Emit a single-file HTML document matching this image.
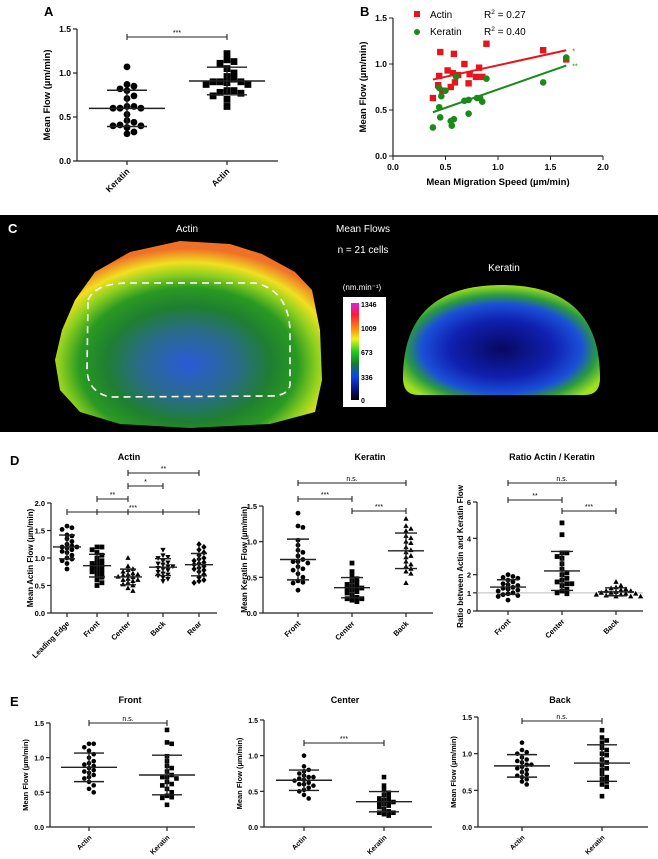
<!DOCTYPE html>
<html><head><meta charset="utf-8"><style>
html,body{margin:0;padding:0;background:#fff;}
svg{display:block;font-family:"Liberation Sans",sans-serif;}
</style></head><body>
<svg id="fig" width="658" height="859" viewBox="0 0 658 859" xmlns="http://www.w3.org/2000/svg">
<defs>
<radialGradient id="gActin" cx="50%" cy="66%" r="62%">
<stop offset="0" stop-color="#2a5ad8"/><stop offset="0.3" stop-color="#2a6c88"/><stop offset="0.5" stop-color="#1f7f30"/>
<stop offset="0.66" stop-color="#2a9a22"/><stop offset="0.78" stop-color="#8fd020"/><stop offset="0.88" stop-color="#f0e020"/><stop offset="1" stop-color="#f07028"/></radialGradient>
<radialGradient id="gKer" cx="50%" cy="58%" r="58%">
<stop offset="0" stop-color="#080860"/><stop offset="0.45" stop-color="#1020b0"/><stop offset="0.7" stop-color="#1a50d8"/>
<stop offset="0.84" stop-color="#2a9a40"/><stop offset="1" stop-color="#a0e020"/></radialGradient>
<linearGradient id="gBar" x1="0" y1="0" x2="0" y2="1">
<stop offset="0" stop-color="#e020e8"/><stop offset="0.12" stop-color="#ff1a30"/><stop offset="0.27" stop-color="#ff9010"/>
<stop offset="0.37" stop-color="#f0f020"/><stop offset="0.5" stop-color="#20d020"/><stop offset="0.62" stop-color="#10802a"/>
<stop offset="0.76" stop-color="#1040f0"/><stop offset="0.9" stop-color="#081070"/><stop offset="1" stop-color="#000"/></linearGradient>
</defs>
<g id="panelC">
<rect x="0" y="215" width="658" height="217" fill="#000"/>
<text x="8" y="233" fill="#fff" font-size="13" font-weight="bold">C</text>
<text x="187" y="232" fill="#fff" font-size="10" text-anchor="middle">Actin</text>
<text x="363" y="232" fill="#fff" font-size="10" text-anchor="middle">Mean Flows</text>
<text x="363" y="253" fill="#fff" font-size="10" text-anchor="middle">n = 21 cells</text>
<text x="504" y="271" fill="#fff" font-size="10" text-anchor="middle">Keratin</text>
<path d="M62,330 L75,300 L95,272 L130,252 L180,241 L230,244 L262,254 L295,272 L312,290 L320,330 L322,380 L315,412 L270,424 L190,428 L120,424 L80,412 L60,390 L55,360 Z" fill="url(#gActin)"/>
<path d="M88,300 Q95,283 130,283 L255,283 Q288,290 290,330 L290,385 Q288,396 270,396 L110,397 Q88,392 87,370 Z" fill="none" stroke="#fff" stroke-width="1.6" stroke-dasharray="7,5"/>
<path d="M403,378 Q403,285 502,285 Q600,285 600,378 Q600,395 585,395 L418,395 Q403,395 403,378 Z" fill="url(#gKer)"/>
<text x="362" y="290" fill="#fff" font-size="8" text-anchor="middle">(nm.min⁻¹)</text>
<rect x="343" y="297" width="43" height="110" fill="#fff"/>
<rect x="351" y="303" width="8" height="97" fill="url(#gBar)"/>
<g font-size="7" font-weight="bold" fill="#000">
<text x="361" y="307">1346</text>
<text x="361" y="331">1009</text>
<text x="361" y="355">673</text>
<text x="361" y="380">336</text>
<text x="361" y="403">0</text>
</g>
</g>
</svg>
<script>
// ---- Panel A data ----
const aCats=["Keratin","Actin"];
const aKeratin=[1.07,0.85,0.87,0.82,0.80,0.71,0.74,0.62,0.60,0.62,0.60,0.60,0.53,0.46,0.44,0.40,0.41,0.38,0.40,0.33,0.31];
const aActin=[1.22,1.15,1.11,1.13,1.05,1.00,0.96,0.93,0.90,0.90,0.87,0.87,0.89,0.90,0.80,0.78,0.77,0.80,0.74,0.70,0.62];
// ---- Panel B data ----
const bActinX=[0.38,0.43,0.44,0.45,0.47,0.52,0.55,0.57,0.58,0.59,0.62,0.68,0.72,0.73,0.79,0.82,0.85,0.89,1.43,1.65];
const bActinY=[0.63,0.77,0.87,1.13,0.71,0.93,0.75,0.90,1.11,0.80,0.88,1.00,0.79,0.89,0.86,0.96,0.86,1.22,1.15,1.05];
const bKerX=[0.38,0.44,0.45,0.46,0.44,0.50,0.55,0.56,0.58,0.60,0.68,0.72,0.72,0.80,0.83,0.85,0.89,1.43,1.65];
const bKerY=[0.31,0.53,0.42,0.65,0.74,0.71,0.38,0.33,0.40,0.86,0.60,0.61,0.46,0.63,0.63,0.59,0.84,0.80,1.07];
const bXTicks=[0,0.5,1.0,1.5,2.0];
const bYTicks=[0,0.5,1.0,1.5];
// ---- Panel D data ----
const dActinCats=["Leading Edge","Front","Center","Back","Rear"];
const dActinLE=[1.58,1.55,1.52,1.42,1.40,1.35,1.30,1.25,1.22,1.20,1.20,1.18,1.15,1.12,1.10,1.05,1.00,0.98,0.95,0.90,0.80];
const dActinFront=[1.20,1.20,1.15,1.10,1.05,1.00,0.95,0.92,0.90,0.88,0.85,0.82,0.80,0.78,0.75,0.72,0.70,0.65,0.60,0.55,0.50];
const dActinCenter=[1.00,0.85,0.80,0.78,0.75,0.72,0.70,0.70,0.68,0.66,0.65,0.62,0.60,0.60,0.58,0.55,0.52,0.50,0.45,0.40];
const dActinBack=[1.15,1.05,1.02,1.00,0.95,0.92,0.90,0.88,0.85,0.85,0.82,0.80,0.78,0.75,0.72,0.70,0.68,0.65,0.62,0.58];
const dActinRear=[1.25,1.20,1.15,1.10,1.05,1.00,0.98,0.95,0.92,0.90,0.88,0.85,0.82,0.80,0.78,0.75,0.70,0.65,0.60,0.58,0.55];
const dKerCats=["Front","Center","Back"];
const dKerFront=[1.40,1.22,1.20,1.02,0.95,0.88,0.85,0.80,0.75,0.72,0.72,0.70,0.65,0.62,0.60,0.55,0.50,0.45,0.43,0.42,0.32];
const dKerCenter=[0.70,0.58,0.52,0.48,0.45,0.42,0.40,0.38,0.36,0.35,0.34,0.32,0.30,0.28,0.25,0.22,0.20,0.20,0.18,0.16];
const dKerBack=[1.32,1.22,1.18,1.15,1.08,1.05,1.00,0.98,0.92,0.88,0.85,0.80,0.78,0.72,0.68,0.65,0.62,0.58,0.55,0.42];
const dRatioFront=[2.0,1.9,1.85,1.8,1.7,1.6,1.5,1.45,1.4,1.3,1.25,1.2,1.15,1.1,1.0,0.95,0.9,0.85,0.8,0.6];
const dRatioCenter=[4.85,4.2,3.2,3.2,3.0,2.9,2.6,2.3,2.1,2.0,1.8,1.7,1.6,1.5,1.5,1.4,1.2,1.1,1.0,0.95];
const dRatioBack=[1.6,1.4,1.3,1.25,1.2,1.15,1.1,1.1,1.05,1.0,1.0,0.95,0.95,0.9,0.9,0.85,0.8,0.8,0.8];
const flowTicks=[0,0.5,1.0,1.5];
const actinTicks=[0,0.5,1.0,1.5,2.0];
const ratioTicks=[0,1,2,4,6];
const eCats=["Actin","Keratin"];

const NS="http://www.w3.org/2000/svg";
const svg=document.getElementById('fig');
function el(tag,attrs,parent){const e=document.createElementNS(NS,tag);for(const k in attrs)e.setAttribute(k,attrs[k]);(parent||svg).appendChild(e);return e;}
function txt(s,attrs,parent){const t=el('text',attrs,parent);t.textContent=s;return t;}
function fmt(v,dec){return dec?v.toFixed(1):String(v);}
function mean(a){return a.reduce((s,v)=>s+v,0)/a.length;}
function sd(a){const m=mean(a);return Math.sqrt(a.reduce((s,v)=>s+(v-m)*(v-m),0)/(a.length-1));}

function marker(g,type,x,y,r){
  let e;
  if(type==='circle'){e=el('circle',{cx:x,cy:y,r:r,fill:'#000'},g);}
  else if(type==='square'){e=el('rect',{x:x-r,y:y-r,width:2*r,height:2*r,fill:'#000'},g);}
  else if(type==='tri'){e=el('polygon',{points:`${x},${y-r*1.2} ${x-r*1.1},${y+r*0.8} ${x+r*1.1},${y+r*0.8}`,fill:'#000'},g);}
  else if(type==='tridown'){e=el('polygon',{points:`${x},${y+r*1.2} ${x-r*1.1},${y-r*0.8} ${x+r*1.1},${y-r*0.8}`,fill:'#000'},g);}
  else {e=el('polygon',{points:`${x},${y-r*1.3} ${x+r*1.1},${y} ${x},${y+r*1.3} ${x-r*1.1},${y}`,fill:'#000'},g);}
  return e;
}

function panel(o){
  const g=el('g',{});
  
  
  const ys=v=>o.yBot-(v-o.ymin)/(o.ymax-o.ymin)*(o.yBot-o.yTop);
  const ax=el('path',{d:`M${o.x0},${o.yTop} L${o.x0},${o.yBot} L${o.xEnd},${o.yBot}`,fill:'none',stroke:'#222','stroke-width':1.2},g);
  
  
  o.ticks.forEach(t=>{
    const y=ys(t);
    el('line',{x1:o.x0-4,x2:o.x0,y1:y,y2:y,stroke:'#222','stroke-width':1.2},g);
    const tl=txt(fmt(t,o.dec),{x:o.x0-6,y:y+3,'font-size':o.tfs,'font-weight':'bold','text-anchor':'end'},g);
    
    
  });
  if(o.refLine!==undefined){
    const rl=el('line',{x1:o.x0,x2:o.xEnd,y1:ys(o.refLine),y2:ys(o.refLine),stroke:'#bbb','stroke-width':1},g);
    
    
  }
  const yl=txt(o.ylabel,{transform:`translate(${o.ylx},${(o.yTop+o.yBot)/2}) rotate(-90)`,'font-size':o.lfs,'font-weight':'bold','text-anchor':'middle'},g);
  
  
  if(o.title){const ti=txt(o.title,{x:o.titleX,y:o.titleY,'font-size':9,'font-weight':'bold','text-anchor':'middle'},g);
    
    }
  o.cats.forEach((c,i)=>{
    const cx=o.cx[i];
    el('line',{x1:cx,x2:cx,y1:o.yBot,y2:o.yBot+4,stroke:'#222','stroke-width':1.2},g);
    const xl=txt(c,{transform:`translate(${cx+3},${o.yBot+11}) rotate(-45)`,'font-size':o.tfs,'font-weight':'bold','text-anchor':'end'},g);
    
    
    const data=o.data[i].slice().sort((a,b)=>b-a);
    const placed=[];const r=o.r;const s=r*2.05;
    const grp=el('g',{},g);
    
    
    data.forEach(v=>{
      const y=ys(v);let dx=0;
      for(let k=0;k<20;k++){
        const cand=k===0?0:(k%2?1:-1)*Math.ceil(k/2)*s;
        if(placed.every(p=>Math.hypot(p[0]-cand,p[1]-y)>=s*0.78)){dx=cand;break;}
      }
      placed.push([dx,y]);
      const m=marker(grp,o.markers[i],cx+dx,y,r);
      
      
    });
    const m=mean(o.data[i]),d=sd(o.data[i]);
    const eb=el('path',{d:`M${cx-o.mh},${ys(m)} L${cx+o.mh},${ys(m)} M${cx-o.sh},${ys(m+d)} L${cx+o.sh},${ys(m+d)} M${cx-o.sh},${ys(m-d)} L${cx+o.sh},${ys(m-d)} M${cx},${ys(m+d)} L${cx},${ys(m-d)}`,stroke:'#222','stroke-width':1.4,fill:'none'},g);
    
    
  });
  (o.brackets||[]).forEach(b=>{
    const bg=el('g',{},g);
    
    
    const x1=o.cx[b[0]],x2=o.cx[b[1]];
    let d=`M${x1},${b[2]} L${x2},${b[2]}`;
    for(let k=b[0];k<=b[1];k++){ if(k===b[0]||k===b[1]||b[4]) d+=` M${o.cx[k]},${b[2]-3} L${o.cx[k]},${b[2]+3}`;}
    el('path',{d:d,stroke:'#222','stroke-width':1.1,fill:'none'},bg);
    txt(b[3],{x:(x1+x2)/2,y:b[2]-2,'font-size':7,'text-anchor':'middle'},bg);
  });
}

function label(s,x,y){const t=txt(s,{x:x,y:y,'font-size':13,'font-weight':'bold'});
  
  }

label('A',44,16);
panel({name:'panel-a-mean-flow',x0:77,xEnd:278,yTop:29,yBot:161,ymin:0,ymax:1.5,ticks:flowTicks,dec:true,tfs:8.5,lfs:9.5,
 ylabel:'Mean Flow (µm/min)',ylx:50,cats:aCats,cx:[127,227],data:[aKeratin,aActin],markers:['circle','square'],r:3.4,mh:38,sh:20,
 brackets:[[0,1,37,'***']]});

label('B',360,16);
(function(){
  const x0=393,xEnd=603,yTop=18,yBot=156;
  const xs=v=>x0+v/2*(xEnd-x0), ys=v=>yBot-v/1.5*(yBot-yTop);
  const g=el('g',{});
  
  
  el('path',{d:`M${x0},${yTop} L${x0},${yBot} L${xEnd},${yBot}`,fill:'none',stroke:'#222','stroke-width':1.2},g);
  bYTicks.forEach(t=>{el('line',{x1:x0-4,x2:x0,y1:ys(t),y2:ys(t),stroke:'#222'},g);
    const l=txt(t.toFixed(1),{x:x0-6,y:ys(t)+3,'font-size':8.5,'font-weight':'bold','text-anchor':'end'},g);
    
    });
  bXTicks.forEach(t=>{el('line',{x1:xs(t),x2:xs(t),y1:yBot,y2:yBot+4,stroke:'#222'},g);
    const l=txt(t.toFixed(1),{x:xs(t),y:yBot+14,'font-size':8.5,'font-weight':'bold','text-anchor':'middle'},g);
    
    });
  const xt=txt('Mean Migration Speed (µm/min)',{x:498,y:185,'font-size':9.5,'font-weight':'bold','text-anchor':'middle'},g);
  
  
  const yt=txt('Mean Flow (µm/min)',{transform:`translate(366,87) rotate(-90)`,'font-size':9.5,'font-weight':'bold','text-anchor':'middle'},g);
  
  
  function fit(X,Y){const mx=mean(X),my=mean(Y);let sxy=0,sxx=0;X.forEach((x,i)=>{sxy+=(x-mx)*(Y[i]-my);sxx+=(x-mx)*(x-mx);});const b=sxy/sxx;return [my-b*mx,b];}
  [[bActinX,bActinY,'#e8141c','square','*','actin'],[bKerX,bKerY,'#1a8a1a','circle','**','keratin']].forEach(s=>{
    const [X,Y,col,mk,star,nm]=s;
    const sg=el('g',{},g);
    
    
    X.forEach((x,i)=>{let m;
      if(mk==='square')m=el('rect',{x:xs(x)-3.2,y:ys(Y[i])-3.2,width:6.4,height:6.4,fill:col},sg);
      else m=el('circle',{cx:xs(x),cy:ys(Y[i]),r:3.3,fill:col},sg);
      
      });
    const [a,b]=fit(X,Y);const xmin=Math.min(...X),xmax=Math.max(...X);
    const ln=el('line',{x1:xs(xmin),y1:ys(a+b*xmin),x2:xs(xmax),y2:ys(a+b*xmax),stroke:col,'stroke-width':2},sg);
    
    
    txt(star,{x:xs(xmax)+6,y:ys(a+b*xmax)+3,'font-size':7,fill:col},sg);
  });
  const lg=el('g',{},g);
  
  
  el('rect',{x:414,y:11,width:6,height:6,fill:'#e8141c'},lg);
  txt('Actin',{x:430,y:18,'font-size':10},lg);
  el('circle',{cx:417,cy:32,r:3,fill:'#1a8a1a'},lg);
  txt('Keratin',{x:430,y:35,'font-size':10},lg);
  const r1=txt('',{x:484,y:18,'font-size':10},lg);r1.innerHTML='R<tspan dy="-4" font-size="6.5">2</tspan><tspan dy="4"> = 0.27</tspan>';
  const r2=txt('',{x:484,y:35,'font-size':10},lg);r2.innerHTML='R<tspan dy="-4" font-size="6.5">2</tspan><tspan dy="4"> = 0.40</tspan>';
})();

label('D',10,465);
panel({name:'panel-d-actin',title:'Actin',titleX:129,titleY:460,x0:51,xEnd:217,yTop:503,yBot:613,ymin:0,ymax:2,ticks:actinTicks,dec:true,tfs:7.5,lfs:8,
 ylabel:'Mean Actin Flow (µm/min)',ylx:33,cats:dActinCats,cx:[67,97,128,163,199],data:[dActinLE,dActinFront,dActinCenter,dActinBack,dActinRear],
 markers:['circle','square','tri','tridown','diamond'],r:2.4,mh:14,sh:8,
 brackets:[[2,4,473,'**'],[2,3,486,'*'],[1,2,499,'**'],[0,4,512,'***',true]]});
panel({name:'panel-d-keratin',title:'Keratin',titleX:370,titleY:460,x0:263,xEnd:433,yTop:506,yBot:613,ymin:0,ymax:1.5,ticks:flowTicks,dec:true,tfs:7.5,lfs:8,
 ylabel:'Mean Keratin Flow (µm/min)',ylx:247,cats:dKerCats,cx:[298,352,406],data:[dKerFront,dKerCenter,dKerBack],
 markers:['circle','square','tri'],r:2.4,mh:18,sh:11,
 brackets:[[0,2,483,'n.s.'],[0,1,499,'***'],[1,2,511,'***']]});
panel({name:'panel-d-ratio',title:'Ratio Actin / Keratin',titleX:552,titleY:460,x0:477,xEnd:643,yTop:502,yBot:611,ymin:0,ymax:6,ticks:ratioTicks,dec:false,tfs:7.5,lfs:8,refLine:1,
 ylabel:'Ratio between Actin and Keratin Flow',ylx:463,cats:dKerCats,cx:[508,562,616],data:[dRatioFront,dRatioCenter,dRatioBack],
 markers:['circle','square','tri'],r:2.4,mh:18,sh:11,
 brackets:[[0,2,483,'n.s.'],[0,1,500,'**'],[1,2,511,'***']]});

label('E',10,706);
panel({name:'panel-e-front',title:'Front',titleX:130,titleY:703,x0:50,xEnd:195,yTop:723,yBot:827,ymin:0,ymax:1.5,ticks:flowTicks,dec:true,tfs:7,lfs:7.5,
 ylabel:'Mean Flow (µm/min)',ylx:28,cats:eCats,cx:[89,167],data:[dActinFront,dKerFront],markers:['circle','square'],r:2.3,mh:28,sh:15,
 brackets:[[0,1,723,'n.s.']]});
panel({name:'panel-e-center',title:'Center',titleX:345,titleY:703,x0:264,xEnd:432,yTop:720,yBot:827,ymin:0,ymax:1.5,ticks:flowTicks,dec:true,tfs:7,lfs:7.5,
 ylabel:'Mean Flow (µm/min)',ylx:242,cats:eCats,cx:[304,384],data:[dActinCenter,dKerCenter],markers:['circle','square'],r:2.3,mh:28,sh:15,
 brackets:[[0,1,743,'***']]});
panel({name:'panel-e-back',title:'Back',titleX:560,titleY:703,x0:478,xEnd:648,yTop:717,yBot:827,ymin:0,ymax:1.5,ticks:flowTicks,dec:true,tfs:7,lfs:7.5,
 ylabel:'Mean Flow (µm/min)',ylx:456,cats:eCats,cx:[522,602],data:[dActinBack,dKerBack],markers:['circle','square'],r:2.3,mh:28,sh:15,
 brackets:[[0,1,721,'n.s.']]});
</script>
</body></html>
